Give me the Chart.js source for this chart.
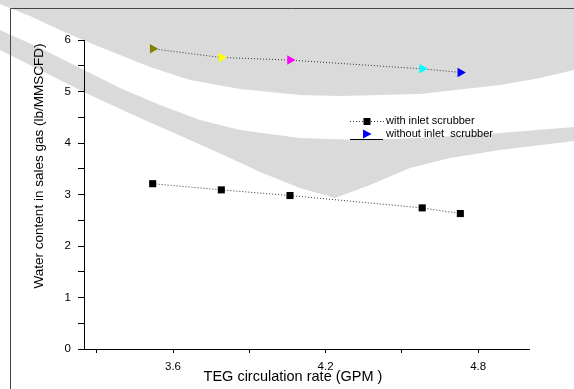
<!DOCTYPE html>
<html>
<head>
<meta charset="utf-8">
<script src="https://cdn.jsdelivr.net/npm/chart.js@4.4.1/dist/chart.umd.min.js"></script>
<style>
  html, body { margin: 0; padding: 0; background: #fff; }
  canvas { display: block; }
</style>
</head>
<body>
<canvas id="chart" width="574" height="389"></canvas>
<script>
// data
const rateGPM = [3.52, 3.79, 4.06, 4.58, 4.73];
const withScrubber = [3.21, 3.09, 2.98, 2.74, 2.63];
const withoutScrubber = [5.83, 5.66, 5.61, 5.44, 5.37];

const xTickValues = [3.3, 3.6, 3.9, 4.2, 4.5, 4.8];
const xTickLabels = ['', '3.6', '', '4.2', '', '4.8'];
const yTickValues = [0, 0.5, 1, 1.5, 2, 2.5, 3, 3.5, 4, 4.5, 5, 5.5, 6];
const yTickLabels = ['0', '', '1', '', '2', '', '3', '', '4', '', '5', '', '6'];

const seriesNames = ['with inlet scrubber', 'without inlet  scrubber'];
const xTitle = 'TEG circulation rate (GPM )';
const yTitle = 'Water content in sales gas (lb/MMSCFD)';

// one colour per triangle, as in the original plot
const triangleColors = ['#808000', '#ffff00', '#ff00ff', '#00ffff', '#0000ff'];

const FONT = '"Liberation Sans", Arial, sans-serif';
Chart.defaults.font.family = FONT;
Chart.defaults.color = '#000';

function toPoints(xs, ys) {
    return xs.map((x, i) => ({ x: x, y: ys[i] }));
}

function path(ctx, pts) {
    ctx.beginPath();
    ctx.moveTo(pts[0][0], pts[0][1]);
    for (let i = 1; i < pts.length; i++) ctx.lineTo(pts[i][0], pts[i][1]);
    ctx.closePath();
}

// ============================================
// BACKGROUND: page, watermark and frame
// ============================================
const backdrop = {
    id: 'backdrop',
    beforeDraw(chart) {
        const ctx = chart.ctx;
        ctx.save();
        ctx.fillStyle = '#fff';
        ctx.fillRect(0, 0, chart.width, chart.height);

        // faint grey watermark left over from the source document
        ctx.fillStyle = '#dadada';
        // upper part, above the white sweep
        path(ctx, [[0, 0], [574, 0], [574, 70], [540, 78], [500, 85], [420, 94],
                   [340, 96], [300, 95], [240, 89], [190, 80], [150, 67],
                   [120, 55], [90, 43], [60, 30], [30, 16], [0, 4]]);
        ctx.fill();
        // lower crescent, below the white sweep
        path(ctx, [[0, 30], [40, 48], [80, 68], [120, 88], [160, 105], [200, 120],
                   [240, 130], [300, 138], [360, 140], [420, 138], [500, 133],
                   [574, 127], [574, 141], [500, 150], [450, 158], [410, 168],
                   [370, 185], [335, 198], [300, 188], [260, 172], [230, 158],
                   [190, 140], [140, 118], [90, 95], [40, 70], [0, 50]]);
        ctx.fill();

        // frame
        ctx.strokeStyle = '#444';
        ctx.lineWidth = 1;
        ctx.beginPath();
        ctx.moveTo(10.5, 389);
        ctx.lineTo(10.5, 8.5);
        ctx.lineTo(574, 8.5);
        ctx.stroke();
        ctx.restore();
    }
};

// ============================================
// AXIS TITLES AND LEGEND
// ============================================
const annotations = {
    id: 'annotations',
    afterDatasetsDraw(chart) {
        const ctx = chart.ctx;
        ctx.save();
        ctx.fillStyle = '#000';
        ctx.textBaseline = 'middle';
        ctx.textAlign = 'center';

        // axis titles
        ctx.font = '14.5px ' + FONT;
        ctx.fillText(xTitle, 293, 377);
        ctx.save();
        ctx.translate(39, 166);
        ctx.rotate(-Math.PI / 2);
        ctx.font = '13.5px ' + FONT;
        ctx.fillText(yTitle, 0, 0);
        ctx.restore();

        // legend
        ctx.textAlign = 'left';
        ctx.font = '11px ' + FONT;

        // row 1: dotted line with black square
        ctx.strokeStyle = '#333';
        ctx.setLineDash([1, 2]);
        ctx.beginPath();
        ctx.moveTo(350, 121.5);
        ctx.lineTo(384, 121.5);
        ctx.stroke();
        ctx.setLineDash([]);
        ctx.fillRect(363.5, 118, 7, 7);
        ctx.fillText(seriesNames[0], 386, 121);

        // row 2: solid line with blue triangle
        ctx.strokeStyle = '#000';
        ctx.beginPath();
        ctx.moveTo(350, 139.5);
        ctx.lineTo(383, 139.5);
        ctx.stroke();
        ctx.fillStyle = '#0000ff';
        ctx.beginPath();
        ctx.moveTo(363, 129.5);
        ctx.lineTo(371.5, 134);
        ctx.lineTo(363, 138.5);
        ctx.closePath();
        ctx.fill();
        ctx.fillStyle = '#000';
        ctx.fillText(seriesNames[1], 386, 134);
        ctx.restore();
    }
};

const ctx = document.getElementById('chart').getContext('2d');
new Chart(ctx, {
    type: 'scatter',
    data: {
        datasets: [
            {
                label: seriesNames[0],
                data: toPoints(rateGPM, withScrubber),
                showLine: true,
                borderColor: '#333',
                borderWidth: 1,
                borderDash: [1, 2],
                pointStyle: 'rect',
                pointRadius: 5,
                pointBackgroundColor: '#000',
                pointBorderColor: '#000',
                pointBorderWidth: 0
            },
            {
                label: seriesNames[1],
                data: toPoints(rateGPM, withoutScrubber),
                showLine: true,
                borderColor: '#333',
                borderWidth: 1,
                borderDash: [1, 2],
                pointStyle: 'triangle',
                pointRotation: 90,
                pointRadius: 5.5,
                pointBackgroundColor: triangleColors,
                pointBorderColor: triangleColors,
                pointBorderWidth: 0
            }
        ]
    },
    options: {
        responsive: false,
        animation: false,
        layout: { padding: { left: 0, top: 40, right: 45, bottom: 0 } },
        plugins: {
            legend: { display: false },
            tooltip: { enabled: false }
        },
        scales: {
            x: {
                type: 'linear',
                position: 'bottom',
                min: 3.25,
                max: 5.0,
                afterBuildTicks: (scale) => {
                    scale.ticks = xTickValues.map(v => ({ value: v }));
                },
                afterFit: (scale) => { scale.height = 40; },
                ticks: {
                    autoSkip: false,
                    maxRotation: 0,
                    padding: 7,
                    font: { size: 11.5 },
                    callback: (value, index) => xTickLabels[index]
                },
                grid: { drawOnChartArea: false, tickLength: 4, color: '#000' },
                border: { display: true, color: '#000', width: 1 }
            },
            y: {
                type: 'linear',
                position: 'left',
                min: 0,
                max: 6,
                afterBuildTicks: (scale) => {
                    scale.ticks = yTickValues.map(v => ({ value: v }));
                },
                afterFit: (scale) => { scale.width = 84; },
                ticks: {
                    autoSkip: false,
                    padding: 7,
                    font: { size: 11.5 },
                    callback: (value, index) => yTickLabels[index]
                },
                grid: { drawOnChartArea: false, tickLength: 6, color: '#000' },
                border: { display: true, color: '#000', width: 1 }
            }
        }
    },
    plugins: [backdrop, annotations]
});
</script>
</body>
</html>
